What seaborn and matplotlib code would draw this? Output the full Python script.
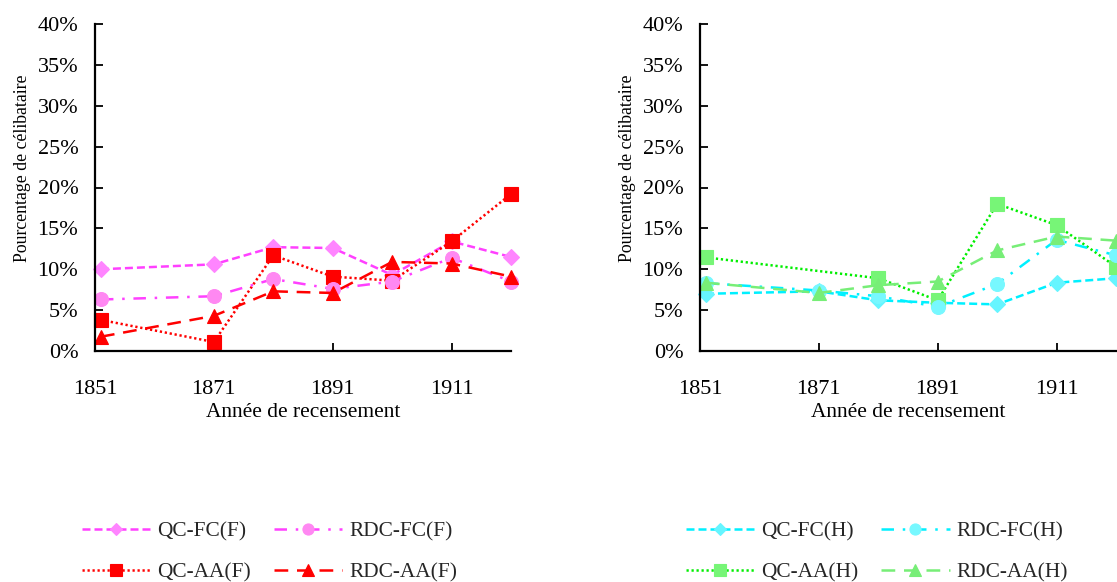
import matplotlib
matplotlib.use("Agg")
import matplotlib.pyplot as plt
import seaborn as sns
import numpy as np
import pandas as pd
from matplotlib.ticker import FuncFormatter

years = [1852, 1871, 1881, 1891, 1901, 1911, 1921]
xticks = [1851, 1871, 1891, 1911]

# Women (F)
qc_fc_f = [10.0, 10.6, 12.7, 12.6, 9.3, 13.4, 11.5]
rdc_fc_f = [6.3, 6.7, 8.8, 7.6, 8.5, 11.4, 8.5]
qc_aa_f = [3.8, 1.1, 11.7, 9.1, 8.6, 13.4, 19.2]
rdc_aa_f = [1.75, 4.3, 7.3, 7.1, 10.9, 10.7, 9.1]

# Men (H)
qc_fc_h = [7.0, 7.3, 6.2, 5.9, 5.7, 8.35, 8.9]
rdc_fc_h = [8.3, 7.4, 6.7, 5.4, 8.2, 13.6, 11.7]
qc_aa_h = [11.45, np.nan, 8.9, 6.2, 18.0, 15.4, 10.3]
rdc_aa_h = [8.35, 7.1, 8.05, 8.5, 12.3, 14.0, 13.5]

sns.set_theme(style="white")
plt.rcParams['font.family'] = ['Liberation Serif', 'DejaVu Serif']

fig = plt.figure(figsize=(11.17, 5.82), dpi=100)
W, H = 1117, 582
axL = fig.add_axes([95 / W, (H - 351) / H, 416 / W, 327 / H])
axR = fig.add_axes([700 / W, (H - 351) / H, 416 / W, 327 / H])

TFS = 16
LFS = 15.4

series_F = [
    ("QC-FC(F)", qc_fc_f, "#FF40FF", "#FF85FF", "D", 8, (0, (3.2, 1.6))),
    ("QC-AA(F)", qc_aa_f, "#FF0000", "#FF0000", "s", 10, (0, (0.9, 1.1))),
    ("RDC-FC(F)", rdc_fc_f, "#FF40FF", "#FF88F2", "o", 10, (0, (5, 3.5, 1, 3.5))),
    ("RDC-AA(F)", rdc_aa_f, "#FF0000", "#FF0000", "^", 10, (0, (5.5, 3.5))),
]
series_H = [
    ("QC-FC(H)", qc_fc_h, "#00F0FF", "#66F5FF", "D", 8, (0, (3.2, 1.6))),
    ("QC-AA(H)", qc_aa_h, "#00EE00", "#77F577", "s", 10, (0, (0.9, 1.1))),
    ("RDC-FC(H)", rdc_fc_h, "#00F0FF", "#77F8FF", "o", 10, (0, (5, 3.5, 1, 3.5))),
    ("RDC-AA(H)", rdc_aa_h, "#77EE77", "#77EE77", "^", 10, (0, (5.5, 3.5))),
]


def draw(ax, series):
    for label, vals, lc, mc, mk, ms, ls in series:
        df = pd.DataFrame({"year": years, "pct": vals}).dropna()
        sns.lineplot(data=df, x="year", y="pct", ax=ax, color=lc, linestyle=ls,
                     linewidth=1.8, marker=mk, markersize=ms,
                     markerfacecolor=mc, markeredgecolor=mc, markeredgewidth=0.8,
                     label=label, clip_on=False, legend=False)
    ax.set_xlim(1851, 1921)
    ax.set_ylim(0, 40)
    ax.set_xticks(xticks)
    ax.set_yticks(np.arange(0, 41, 5))
    ax.yaxis.set_major_formatter(FuncFormatter(lambda v, p: f"{v:.0f}%"))
    for s in ["top", "right"]:
        ax.spines[s].set_visible(False)
    for s in ["left", "bottom"]:
        ax.spines[s].set_color("black")
        ax.spines[s].set_linewidth(1.6)
    ax.tick_params(axis="x", direction="in", length=6, width=1.3, pad=21,
                   labelsize=TFS, colors="black", bottom=True)
    ax.tick_params(axis="y", direction="in", length=6, width=1.3, pad=12,
                   labelsize=TFS, colors="black", left=True)
    ax.set_xlabel("Année de recensement", fontsize=LFS, color="black")
    ax.xaxis.set_label_coords(0.5, -0.158)
    ax.set_ylabel("Pourcentage de célibataire", fontsize=12.8, color="black")
    ax.yaxis.set_label_coords(-0.155, 0.56)
    ax.grid(False)
    ax.set_facecolor("white")


draw(axL, series_F)
draw(axR, series_H)

for ax, x0 in [(axL, 82), (axR, 686)]:
    handles, labels = ax.get_legend_handles_labels()
    fig.legend(handles, labels, ncol=2, loc="upper left",
               bbox_to_anchor=(x0 / W, 1 - 522 / H), frameon=False,
               fontsize=LFS, handlelength=3.2, handletextpad=0.33,
               columnspacing=1.05, labelspacing=0.95, borderpad=0,
               borderaxespad=0, markerscale=0.8)

fig.savefig("out.png", dpi=100, facecolor="white")
